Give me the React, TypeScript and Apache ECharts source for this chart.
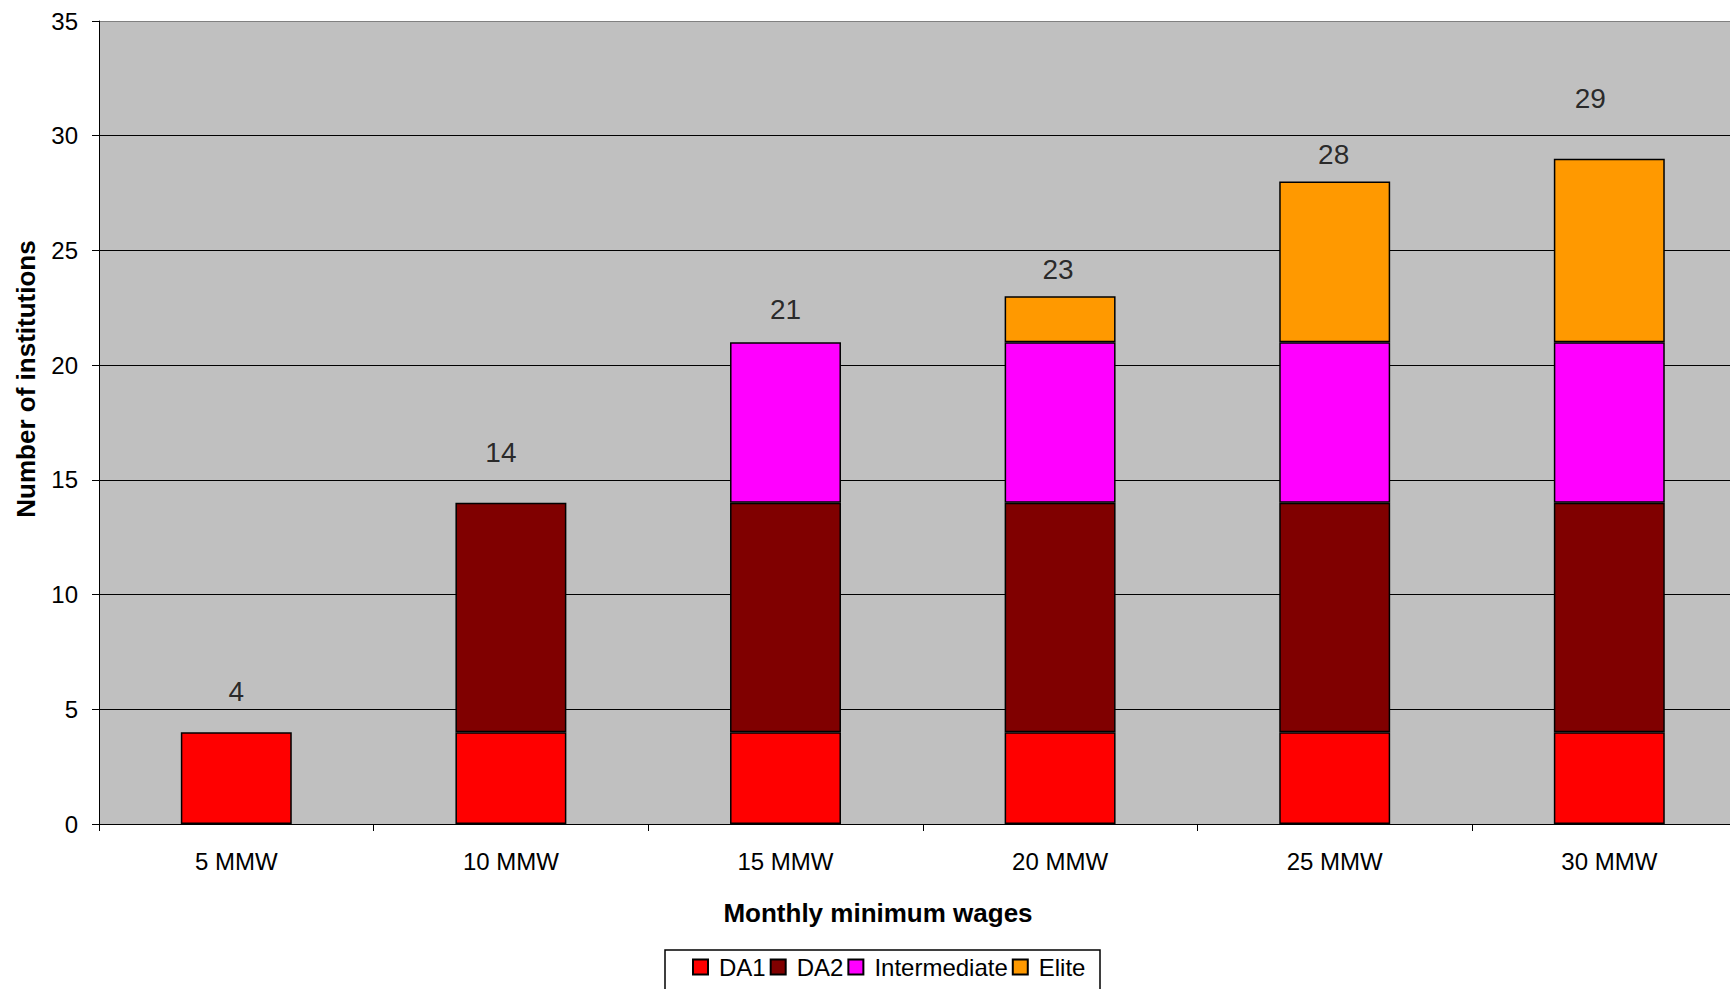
import React, { useEffect, useRef } from "react";
import * as echarts from "echarts";

// Institutions by wage band, stacked by institution tier
const categories = ["5 MMW", "10 MMW", "15 MMW", "20 MMW", "25 MMW", "30 MMW"];
const da1 = [4, 4, 4, 4, 4, 4];
const da2 = [null, 10, 10, 10, 10, 10];
const intermediate = [null, null, 7, 7, 7, 7];
const elite = [null, null, null, 2, 7, 8];
const totals = [4, 14, 21, 23, 28, 29];
const yTicks = { min: 0, max: 35, interval: 5 };

// Hand-placed total labels: lift above the stack top and sideways nudge (px)
const labelLift = [41, 50, 33, 27, 27, 60];
const labelShiftX = [0, -10, 0, -2, -1, -19];

const FONT = "'Liberation Sans', Arial, Helvetica, sans-serif";

export default function App() {
  const ref = useRef<HTMLDivElement>(null);

  useEffect(() => {
    if (!ref.current) return;
    const chart = echarts.init(ref.current, undefined, { renderer: "svg" });

    const barBase = {
      type: "bar" as const,
      stack: "total",
      barWidth: "40.4%",
      itemStyle: { borderColor: "#000", borderWidth: 1.5 },
    };

    chart.setOption({
      animation: false,
      backgroundColor: "#fff",
      textStyle: { fontFamily: FONT },
      grid: {
        left: 99,
        top: 21,
        width: 1647.6,
        height: 803,
        show: true,
        backgroundColor: "#C0C0C0",
        borderWidth: 0,
      },
      legend: {
        data: ["DA1", "DA2", "Intermediate", "Elite"],
        left: 692,
        top: 955,
        padding: 0,
        icon: "rect",
        itemWidth: 15,
        itemHeight: 15,
        itemGap: 4,
        textStyle: {
          fontFamily: FONT,
          fontSize: 24,
          color: "#000",
          padding: [0, 0, 0, 6],
        },
      },
      xAxis: {
        type: "category",
        data: categories,
        axisLine: { lineStyle: { color: "#000", width: 1 } },
        axisTick: { show: true, length: 7, lineStyle: { color: "#000" } },
        axisLabel: { fontSize: 24, color: "#000", margin: 25, fontFamily: FONT },
        splitLine: { show: false },
      },
      yAxis: {
        type: "value",
        min: yTicks.min,
        max: yTicks.max,
        interval: yTicks.interval,
        axisLine: { show: true, lineStyle: { color: "#000", width: 1 } },
        axisTick: { show: true, length: 7, lineStyle: { color: "#000" } },
        axisLabel: { fontSize: 24, color: "#000", margin: 21, fontFamily: FONT },
        splitLine: {
          show: true,
          lineStyle: {
            color: ["#000", "#000", "#000", "#000", "#000", "#000", "#000", "#808080"],
            width: 1,
          },
        },
      },
      series: [
        { ...barBase, name: "DA1", data: da1, itemStyle: { ...barBase.itemStyle, color: "#FF0000" } },
        { ...barBase, name: "DA2", data: da2, itemStyle: { ...barBase.itemStyle, color: "#800000" } },
        {
          ...barBase,
          name: "Intermediate",
          data: intermediate,
          itemStyle: { ...barBase.itemStyle, color: "#FF00FF" },
        },
        { ...barBase, name: "Elite", data: elite, itemStyle: { ...barBase.itemStyle, color: "#FF9900" } },
        {
          type: "scatter",
          name: "Total",
          symbolSize: 1,
          itemStyle: { color: "rgba(0,0,0,0)" },
          z: 10,
          silent: true,
          data: totals.map((v, i) => ({
            value: v,
            label: { offset: [labelShiftX[i], -labelLift[i]] },
          })),
          label: {
            show: true,
            position: "inside",
            formatter: "{c}",
            fontSize: 28,
            color: "#000",
            fontFamily: FONT,
          },
        },
      ],
      graphic: [
        {
          type: "text",
          x: 878,
          y: 913,
          style: {
            text: "Monthly minimum wages",
            font: `bold 26px ${FONT}`,
            fill: "#000",
            align: "center",
            verticalAlign: "middle",
          },
        },
        {
          type: "text",
          x: 26,
          y: 379,
          rotation: Math.PI / 2,
          style: {
            text: "Number of institutions",
            font: `bold 26px ${FONT}`,
            fill: "#000",
            align: "center",
            verticalAlign: "middle",
          },
        },
        {
          type: "rect",
          shape: { x: 665, y: 950, width: 435, height: 70 },
          style: { fill: "none", stroke: "#000", lineWidth: 1.5 },
          z: -1,
        },
      ],
    });

    return () => chart.dispose();
  }, []);

  return (
    <div
      style={{
        position: "fixed",
        left: 0,
        top: 0,
        width: 1730,
        height: 989,
        overflow: "hidden",
        background: "#fff",
      }}
    >
      <div ref={ref} style={{ width: 1760, height: 989 }} />
    </div>
  );
}
